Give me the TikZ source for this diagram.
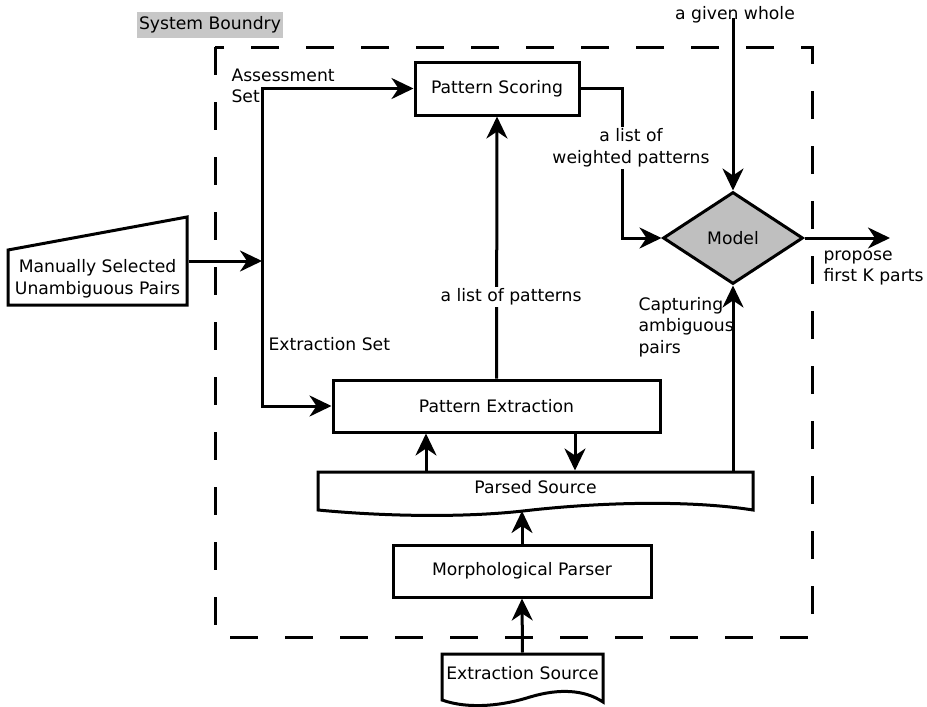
\documentclass[tikz,border=0pt]{standalone}
\usepackage{fontspec}
\setmainfont{DejaVu Sans}
\usetikzlibrary{arrows.meta,shapes.geometric}

\begin{document}
\begin{tikzpicture}[x=0.5pt,y=-0.5pt,line width=1.5pt,
  font=\fontsize{8.6pt}{10.8pt}\selectfont,
  box/.style={draw,rectangle,inner sep=0pt},
  arr/.style={-{Stealth[length=11pt,width=10.5pt,inset=3.5pt]}},
  lbl/.style={align=left,inner sep=1pt},
  boundary/.style={dash pattern=on 14pt off 13.5pt}]
\useasboundingbox (0,0) rectangle (927,707);
\draw[boundary] (215,47) rectangle (812,637);
\node[fill=black!22,inner xsep=1pt,inner ysep=2.5pt] (sysb) at (210,25) {System Boundry};
% shapes
\node[box,minimum width=82pt,minimum height=26.5pt] (scoring) at (497,88.5) {Pattern Scoring};
\node[box,minimum width=163.5pt,minimum height=26pt] (extraction) at (496.5,406) {Pattern Extraction};
\node[box,minimum width=129pt,minimum height=26pt] (parser) at (522,571) {Morphological Parser};
\node[diamond,draw,fill=black!25,minimum width=70pt,minimum height=46pt,inner sep=0pt] (model) at (733,238) {Model};
\draw (8,250)--(187,217)--(187,305)--(8,305)--cycle;
\node[align=center,minimum width=89.5pt,inner sep=0pt] (manual) at (97.5,279) {Manually Selected\\Unambiguous Pairs};
\draw (318,472)--(753,472)--(753,510) .. controls (690,500) and (600,502) .. (523,511) .. controls (460,518) and (380,516) .. (318,510)--cycle;
\node[minimum width=217.5pt,minimum height=15pt,inner sep=0pt] (parsed) at (535.5,487) {Parsed Source};
\draw (442,654)--(603,654)--(603,702) .. controls (585,690) and (560,688) .. (530,697) .. controls (505,705) and (470,710) .. (442,700)--cycle;
\node[minimum width=80.5pt,minimum height=19pt,inner sep=0pt] (source) at (522.5,673) {Extraction Source};
\coordinate (jn) at (262,261);
\coordinate (parsedbot) at (522,511);
\coordinate (given) at (733,18);
\coordinate (out) at (890,238);
\node (givenlbl) at (735,15) {a given whole};
% connectors
\draw[arr] (manual.east |- jn) -- (jn);
\draw[arr] (jn) |- (scoring.west);
\draw[arr] (jn) |- (extraction.west);
\draw[arr] (extraction.north) -- (scoring.south);
\draw[arr] (scoring.east) -- ++(42,0) |- (model.west);
\draw[arr] (given) -- (model.north);
\draw[arr] (model.east) -- (out);
\draw[arr] (parsed.north -| model) -- (model.south);
\draw[arr] (parsed.north -| 426,0) -- (extraction.south -| 426,0);
\draw[arr] (extraction.south -| 575,0) -- (parsed.north -| 575,0);
\draw[arr] (parser.north) -- (parsedbot);
\draw[arr] (source.north) -- (parser.south);
% labels
\node[lbl,anchor=west] (assess) at (228,86) {Assessment\\Set};
\node[lbl,anchor=west] (extset) at (265,344) {Extraction Set};
\node[fill=white,inner sep=1pt] (lop) at (511,297) {a list of patterns};
\node[fill=white,align=center,inner sep=1pt] (lowp) at (631,148) {a list of\\weighted patterns};
\node[lbl,anchor=west] (capt) at (635,327) {Capturing\\ambiguous\\pairs};
\node[lbl,anchor=west] (prop) at (820,268) {propose\\first K parts};
\end{tikzpicture}
\end{document}
